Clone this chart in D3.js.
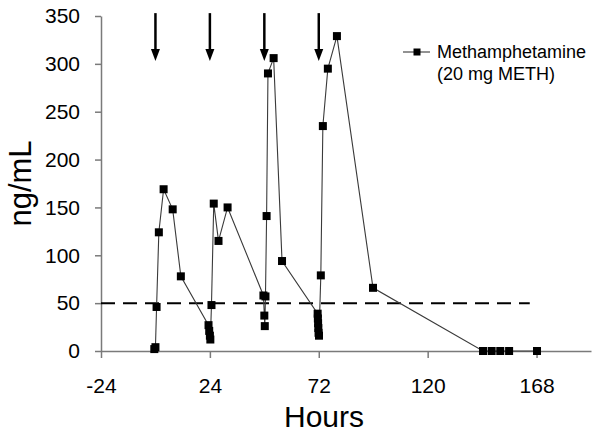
<!DOCTYPE html>
<meta charset="utf-8">
<style> /* set the CSS */

body { margin: 0; background: #fff; }
text { font-family: "Liberation Sans", Arial, sans-serif; fill: #000; }
.axis path, .axis line { stroke: #7a7a7a; stroke-width: 1.5; }
.axis text { font-size: 21px; }

</style>
<body>
<!-- load the d3.js library -->
<script src="https://cdn.jsdelivr.net/npm/d3@7"></script>
<script>

    // the data
    var hours = [-0.5, 0, 0.5, 1.5, 3.6, 7.6, 11.2,
        23.4, 23.7, 24.0, 24.2, 24.7, 25.7, 27.8, 31.8,
        47.6, 48.0, 48.2, 48.5, 49.0, 49.6, 52.1, 55.8,
        71.5, 71.6, 71.7, 71.8, 71.9, 72.1, 72.9, 73.8, 76.0, 80.0, 95.9,
        144.4, 148.2, 152.0, 155.9, 168.2];
    var meth = [2, 4, 46, 124, 169, 148, 78,
        27, 21, 16, 12, 48, 154, 115, 150,
        58, 37, 26, 57, 141, 290, 306, 94,
        39, 34, 29, 24, 19, 16, 79, 235, 295, 329, 66,
        0, 0, 0, 0, 0];
    var doseHours = [0, 24, 48, 72];
    var cutoff = 50;
    var xTicks = [-24, 24, 72, 120, 168];
    var yTicks = [0, 50, 100, 150, 200, 250, 300, 350];
    var seriesName = ["Methamphetamine", "(20 mg METH)"];

    var data = hours.map(function(h, i) { return {h: h, v: meth[i]}; });

    // set the dimensions and margins of the graph
    var margin = {top: 16, right: 11, bottom: 82, left: 101},
        width = 602 - margin.left - margin.right,
        height = 433 - margin.top - margin.bottom;

    // set the ranges
    var x = d3.scaleLinear().domain([-24, 192]).range([0, width]);
    var y = d3.scaleLinear().domain([0, 350]).range([height, 0]);

    var svg = d3.select("body").append("svg")
        .attr("width", 602)
        .attr("height", 433)
        .append("g")
        .attr("transform", "translate(" + margin.left + "," + margin.top + ")");

    // plain hyphen minus, like the original
    var fmt = function(d) { return String(d); };

    // y axis
    svg.append("g")
        .attr("class", "axis")
        .call(d3.axisLeft(y).tickValues(yTicks).tickFormat(fmt)
            .tickSize(6).tickSizeOuter(0).tickPadding(15));

    // x axis
    svg.append("g")
        .attr("class", "axis")
        .attr("transform", "translate(0," + height + ")")
        .call(d3.axisBottom(x).tickValues(xTicks).tickFormat(fmt)
            .tickSize(7).tickSizeOuter(0).tickPadding(20));

    // 50 ng/mL cutoff
    svg.append("line")
        .attr("x1", x(-24)).attr("x2", x(165))
        .attr("y1", y(cutoff)).attr("y2", y(cutoff))
        .attr("stroke", "#000")
        .attr("stroke-width", 2)
        .attr("stroke-dasharray", "14,8");

    // the series line
    var line = d3.line()
        .x(function(d) { return x(d.h); })
        .y(function(d) { return y(d.v); });

    svg.append("path")
        .datum(data)
        .attr("fill", "none")
        .attr("stroke", "#3a3a3a")
        .attr("stroke-width", 1.1)
        .attr("d", line);

    svg.selectAll(".pt")
        .data(data)
        .enter().append("rect")
        .attr("class", "pt")
        .attr("x", function(d) { return x(d.h) - 4; })
        .attr("y", function(d) { return y(d.v) - 4; })
        .attr("width", 8)
        .attr("height", 8)
        .attr("fill", "#000");

    // dose arrows
    var arrows = svg.selectAll(".arrow")
        .data(doseHours)
        .enter().append("g")
        .attr("class", "arrow")
        .attr("transform", function(d) { return "translate(" + x(d) + "," + y(353) + ")"; });
    arrows.append("line")
        .attr("x1", 0).attr("x2", 0)
        .attr("y1", 0).attr("y2", y(303) - y(353) - 10)
        .attr("stroke", "#000")
        .attr("stroke-width", 2.5);
    arrows.append("path")
        .attr("d", function() {
            var t = y(303) - y(353);
            return "M-4.5," + (t - 12) + "L4.5," + (t - 12) + "L0," + t + "Z";
        })
        .attr("fill", "#000");

    // axis titles
    svg.append("text")
        .attr("transform", "translate(" + (20 - margin.left) + "," + (height / 2) + ") rotate(-90)")
        .attr("text-anchor", "middle")
        .attr("dominant-baseline", "central")
        .style("font-size", "31px")
        .text("ng/mL");

    svg.append("text")
        .attr("x", 324 - margin.left)
        .attr("y", 427 - margin.top)
        .attr("text-anchor", "middle")
        .style("font-size", "30px")
        .text("Hours");

    // legend
    var legend = svg.append("g")
        .attr("transform", "translate(" + (403 - margin.left) + "," + (52 - margin.top) + ")");
    legend.append("line")
        .attr("x1", 0).attr("x2", 27)
        .attr("stroke", "#3a3a3a").attr("stroke-width", 1.1);
    legend.append("rect")
        .attr("x", 10.5).attr("y", -3.5).attr("width", 7).attr("height", 7)
        .attr("fill", "#000");
    legend.selectAll(".ltext")
        .data(seriesName)
        .enter().append("text")
        .attr("x", 34)
        .attr("y", function(d, i) { return 5.5 + i * 22.5; })
        .style("font-size", "18px")
        .text(function(d) { return d; });

</script>
</body>
